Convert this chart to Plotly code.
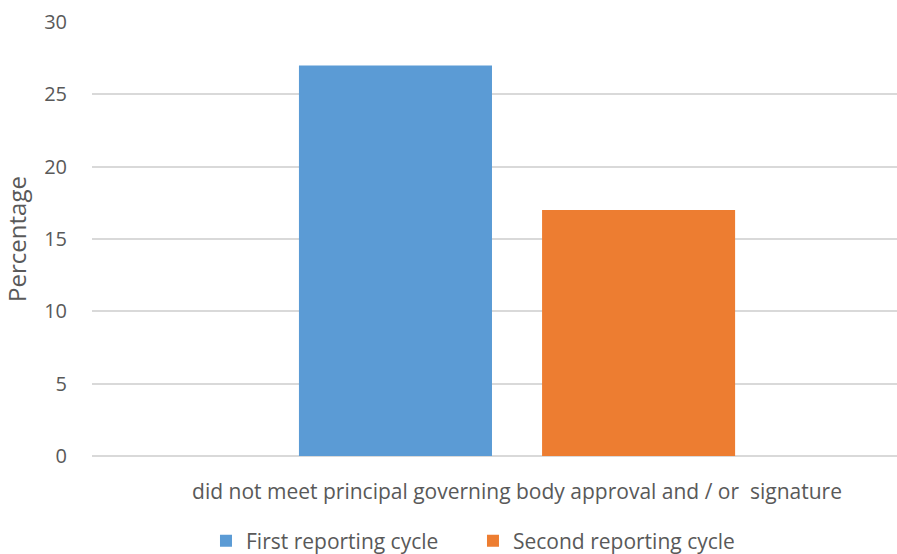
import plotly.graph_objects as go

categories = ["did not meet principal governing body approval and / or  signature"]
first_cycle = [27]
second_cycle = [17]
series_names = ["First reporting cycle", "Second reporting cycle"]
y_ticks = [0, 5, 10, 15, 20, 25, 30]

FONT = "Open Sans"
GREY = "#595959"

fig = go.Figure()
fig.add_trace(go.Bar(x=categories, y=first_cycle, name=series_names[0],
                     marker=dict(color="#5B9BD5", line=dict(width=0))))
fig.add_trace(go.Bar(x=categories, y=second_cycle, name=series_names[1],
                     marker=dict(color="#ED7D31", line=dict(width=0))))

fig.update_layout(
    width=897, height=554,
    margin=dict(l=92, r=0, t=22, b=98, autoexpand=False),
    paper_bgcolor="white", plot_bgcolor="white",
    barmode="group", bargap=0.428, bargroupgap=0.206,
    font=dict(family=FONT, color=GREY, size=20),
    showlegend=True,
    legend=dict(orientation="h", x=0.1416, xanchor="left",
                y=-0.196, yanchor="middle",
                font=dict(size=21, color=GREY),
                entrywidth=222, entrywidthmode="pixels",
                itemsizing="constant", itemwidth=30, traceorder="normal"),
    xaxis=dict(range=[-0.5, 0.447], showgrid=False, showline=False,
               ticks="", tickfont=dict(size=21, color=GREY),
               ticklabelstandoff=21),
    yaxis=dict(range=[0, 30], tickvals=y_ticks, showgrid=True,
               gridcolor="#D9D9D9", gridwidth=1.5,
               zeroline=True, zerolinecolor="#D9D9D9", zerolinewidth=1.5,
               showline=False, ticks="", ticklabelstandoff=24,
               tickfont=dict(size=20, color=GREY),
               title=dict(text="Percentage", font=dict(size=24, color=GREY),
                          standoff=13)),
)

fig.write_html("out.html")
